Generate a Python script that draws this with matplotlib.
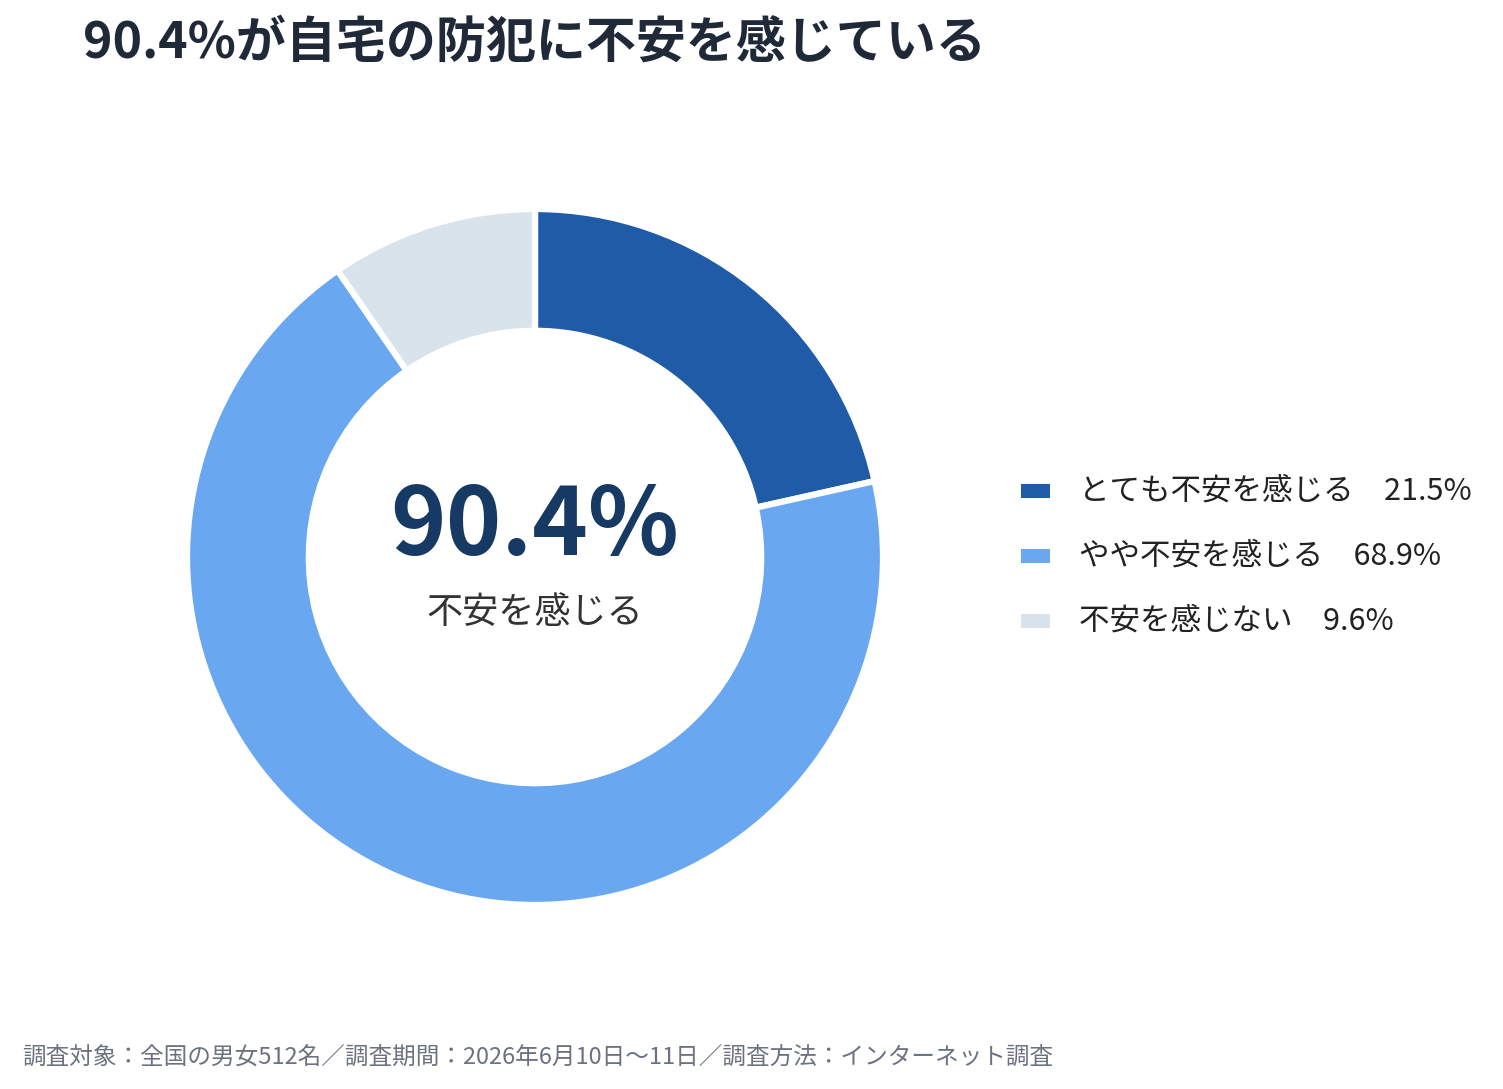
import matplotlib
matplotlib.use("Agg")
import matplotlib.pyplot as plt
from matplotlib.patches import Rectangle

plt.rcParams['font.family'] = ['Noto Sans CJK JP', 'DejaVu Sans']

title = "90.4%が自宅の防犯に不安を感じている"
labels = ["とても不安を感じる", "やや不安を感じる", "不安を感じない"]
values = [21.5, 68.9, 9.6]
colors = ["#1f5ba7", "#69a7f1", "#d9e3ec"]
center_value = "90.4%"
center_label = "不安を感じる"
footer = "調査対象：全国の男女512名／調査期間：2026年6月10日〜11日／調査方法：インターネット調査"

W, H = 1503, 1089
fig = plt.figure(figsize=(W / 100, H / 100), dpi=100)
fig.patch.set_facecolor("white")

# donut axes (pixel-based placement)
cx, cy, r = 535, 557, 348
ax = fig.add_axes([(cx - r) / W, (H - cy - r) / H, 2 * r / W, 2 * r / H])
ax.pie(values, colors=colors, startangle=90, counterclock=False, radius=1.0,
       wedgeprops=dict(width=0.35, edgecolor="white", linewidth=4.5))
ax.set_xlim(-1, 1)
ax.set_ylim(-1, 1)
ax.set_aspect("equal")
ax.axis("off")

ax.text(0, 0.085, center_value, ha="center", va="center", fontsize=68,
        fontweight="bold", color="#163a63")
ax.text(0, -0.16, center_label, ha="center", va="center", fontsize=26,
        color="#333333")

# title
fig.text(83 / W, 1 - 43 / H, title, ha="left", va="center", fontsize=36,
         fontweight="bold", color="#1f2937")

# legend
ys = [491, 556, 621]
for lab, val, col, y in zip(labels, values, colors, ys):
    fig.patches.append(Rectangle((1021 / W, 1 - (y + 7) / H), 29 / W, 14 / H,
                                 transform=fig.transFigure, facecolor=col,
                                 edgecolor="none"))
    fig.text(1079 / W, 1 - y / H, f"{lab}　{val}%", ha="left", va="center",
             fontsize=22, color="#222222")

# footer
fig.text(22 / W, 1 - 1057 / H, footer, ha="left", va="center", fontsize=17,
         color="#6b7280")

fig.savefig("out.png", dpi=100, facecolor="white")
